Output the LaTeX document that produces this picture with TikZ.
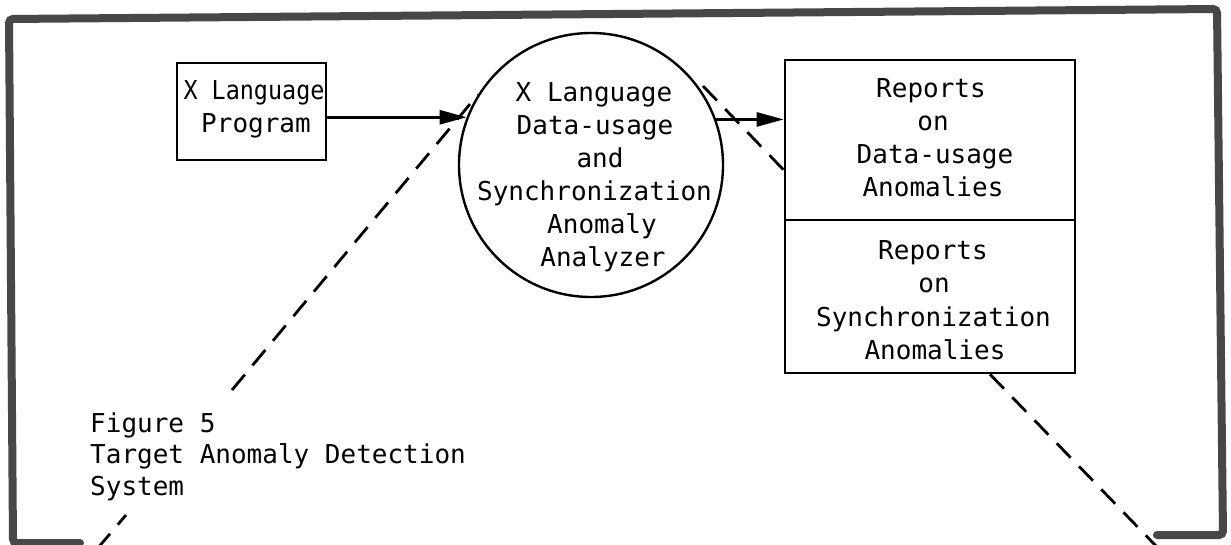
\documentclass[tikz,border=0pt]{standalone}
\usepackage{fontspec}
\newfontfamily\tw{DejaVu Sans Mono}
\newfontfamily\twn[FakeStretch=0.9]{DejaVu Sans Mono}
\usetikzlibrary{arrows.meta,calc}
\begin{document}
\begin{tikzpicture}[x=1pt,y=-1pt,
  boxshape/.style={draw, line width=2.6pt, inner sep=0pt},
  txt/.style={font=\tw\fontsize{26}{33}\selectfont, inner sep=0pt, anchor=base},
  captxt/.style={font=\tw\fontsize{26}{33}\selectfont, inner sep=0pt, anchor=base west},
  flow/.style={line width=2.8pt, -{Triangle[length=27pt,width=14pt]}},
  proj/.style={line width=2.8pt, dash pattern=on 20pt off 12pt},
  frameline/.style={line width=8pt, draw=black!72, rounded corners=4pt, line cap=round}]
\useasboundingbox (0,0) rectangle (1231,545);
\fill[white] (0,0) rectangle (1231,545);

% outer frame
\draw[frameline] (80,543) -- (13,543) -- (9,19) -- (1217,9) -- (1223,535) -- (1157,535);

% shapes
\node[boxshape, minimum width=149pt, minimum height=97pt] (prog) at (251.5,111.5) {};
\node[draw, circle, line width=2.4pt, minimum size=264pt, inner sep=0pt] (analyzer) at (591,165) {};
\node[boxshape, minimum width=290pt, minimum height=160pt] (rep1) at (930,140) {};
\node[boxshape, minimum width=290pt, minimum height=153pt] (rep2) at (930,296.5) {};

% texts
\node[txt] (p1) at (254,100) {\twn X Language};
\node[txt] (p2) at (256,133) {Program};

\node[txt] (a1) at (594,102) {X Language};
\node[txt] (a2) at (595,135) {Data-usage};
\node[txt] (a3) at (600,168) {and};
\node[txt] (a4) at (594.5,201) {Synchronization};
\node[txt] (a5) at (602,234) {Anomaly};
\node[txt] (a6) at (603,267) {Analyzer};

\node[txt] (r1) at (931,98) {Reports};
\node[txt] (r2) at (933,131) {on};
\node[txt] (r3) at (935,164) {Data-usage};
\node[txt] (r4) at (933,197) {Anomalies};

\node[txt] (s1) at (933,260) {Reports};
\node[txt] (s2) at (934,293) {on};
\node[txt] (s3) at (933.5,326) {Synchronization};
\node[txt] (s4) at (935,359) {Anomalies};

\node[captxt] (c1) at (90,432) {Figure 5};
\node[captxt] (c2) at (90,463.5) {Target Anomaly Detection};
\node[captxt] (c3) at (90,495) {System};

% flow arrows
\draw[flow] (prog.east |- analyzer.159.6) -- (analyzer.159.6);
\draw[flow] (analyzer.20.9) -- (rep1.west |- analyzer.20.9);

% projection (dashed) lines
\coordinate (lb) at (97,549);
\coordinate (lm) at (126,515);
\coordinate (lu) at (232,390);
\coordinate (ru) at (703,86);
\coordinate (rb) at (1157,547);
\draw[proj] (lb) -- (lm);
\draw[proj] (lu) -- (analyzer.148.5);
\draw[proj] (ru) -- (rep1.west |- 0,170);
\draw[proj] (rep2.south -| 990,0) -- (rb);
\end{tikzpicture}
\end{document}
